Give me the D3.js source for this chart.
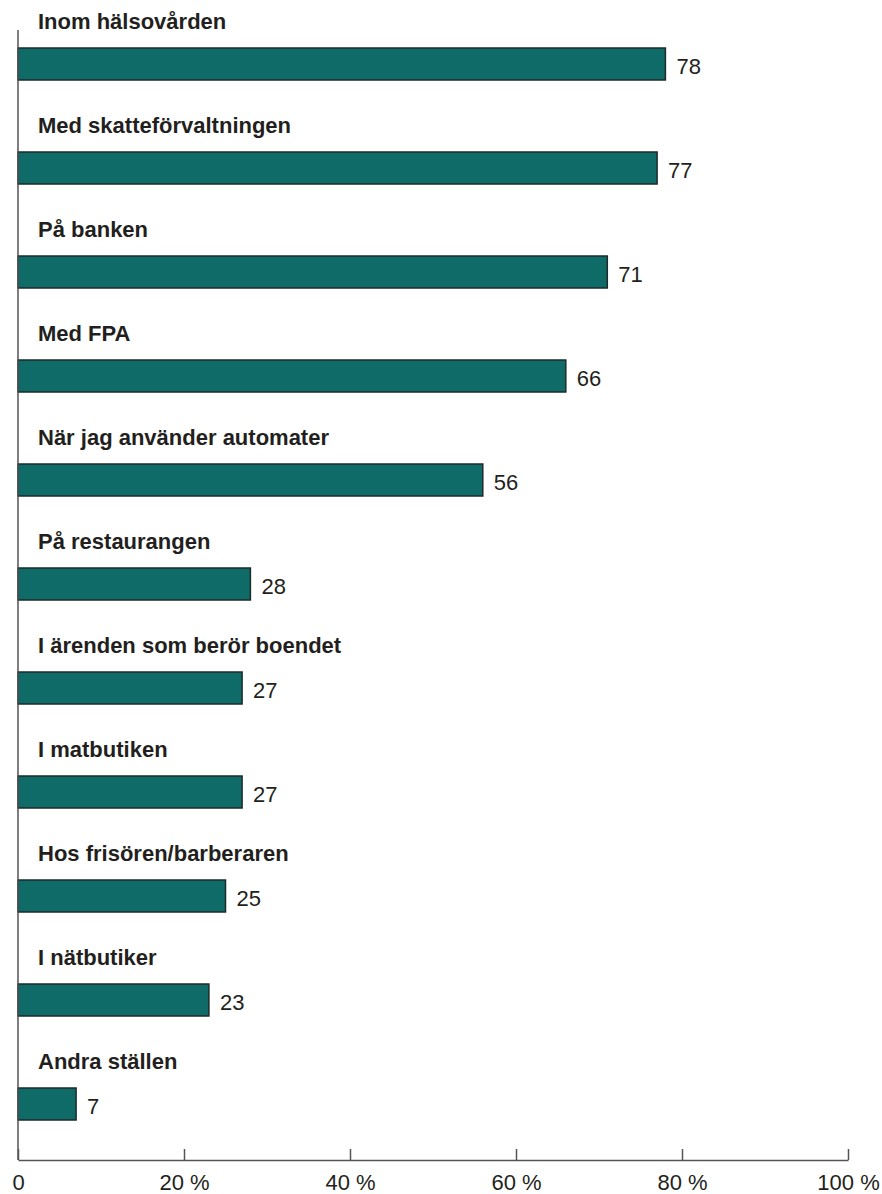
<!DOCTYPE html>
<html>
<head>
<meta charset="utf-8">
<script src="https://cdn.jsdelivr.net/npm/d3@7"></script>
<style>
  html, body { margin: 0; padding: 0; background: #fff; }
  svg { display: block; }
</style>
</head>
<body>
<script>
// Where respondents use the service (share, %)
const categories = [
  "Inom hälsovården",
  "Med skatteförvaltningen",
  "På banken",
  "Med FPA",
  "När jag använder automater",
  "På restaurangen",
  "I ärenden som berör boendet",
  "I matbutiken",
  "Hos frisören/barberaren",
  "I nätbutiker",
  "Andra ställen"
];
const values = [78, 77, 71, 66, 56, 28, 27, 27, 25, 23, 7];
const xTicks = [0, 20, 40, 60, 80, 100];

const W = 882, H = 1194;
const left = 18, right = 848, axisY = 1160, axisTop = 30;

const svg = d3.select("body").append("svg")
  .attr("width", W).attr("height", H);

const x = d3.scaleLinear().domain([0, 100]).range([left, right]);
const y = d3.scaleBand().domain(categories)
  .range([48, 1120]).paddingInner(72 / 104).paddingOuter(0);

const fontFamily = "'Liberation Sans', Arial, Helvetica, sans-serif";
const ink = "#231f20";

// bars
svg.append("g").selectAll("rect")
  .data(categories)
  .join("rect")
  .attr("x", x(0))
  .attr("y", d => y(d))
  .attr("width", (d, i) => x(values[i]) - x(0))
  .attr("height", y.bandwidth())
  .attr("fill", "#0e6b68")
  .attr("stroke", "#1d2b2a")
  .attr("stroke-width", 1.5);

// category labels above each bar
svg.append("g").selectAll("text")
  .data(categories)
  .join("text")
  .attr("x", 38)
  .attr("y", d => y(d) - 19)
  .attr("font-family", fontFamily)
  .attr("font-weight", "bold")
  .attr("font-size", 22)
  .attr("fill", ink)
  .text(d => d);

// value labels
svg.append("g").selectAll("text")
  .data(categories)
  .join("text")
  .attr("x", (d, i) => x(values[i]) + 11)
  .attr("y", d => y(d) + 26)
  .attr("font-family", fontFamily)
  .attr("font-size", 22)
  .attr("fill", ink)
  .text((d, i) => values[i]);

// vertical baseline
svg.append("line")
  .attr("x1", x(0)).attr("x2", x(0))
  .attr("y1", axisTop).attr("y2", axisY)
  .attr("stroke", "#555").attr("stroke-width", 1.5);

// x axis with upward ticks
const xAxis = d3.axisBottom(x)
  .tickValues(xTicks)
  .tickFormat(d => d === 0 ? "0" : d + " %")
  .tickSizeInner(-11)
  .tickSizeOuter(0)
  .tickPadding(14);

const gx = svg.append("g")
  .attr("transform", `translate(0,${axisY})`)
  .call(xAxis);
gx.select(".domain").attr("stroke", "#555").attr("stroke-width", 1.5);
gx.selectAll(".tick line").attr("stroke", "#555").attr("stroke-width", 1.5);
gx.selectAll(".tick text")
  .attr("font-family", fontFamily)
  .attr("font-size", 22)
  .attr("fill", ink);
</script>
</body>
</html>
